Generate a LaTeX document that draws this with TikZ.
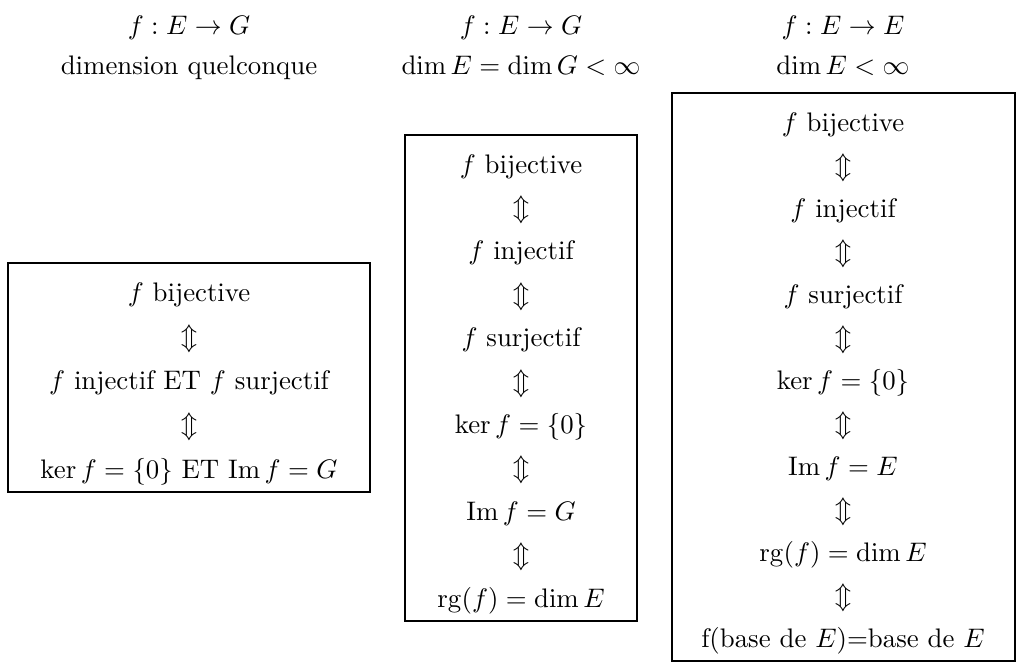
\documentclass[tikz,border=0pt]{standalone}
\usepackage{amsmath}
\begin{document}
\begin{tikzpicture}[x=0.373pt,y=-0.373pt,
  every node/.style={inner sep=0pt, anchor=base},
  framebox/.style={draw=black, line width=0.4pt},
  txt/.style={},
  eqv/.style={}]
\useasboundingbox (0,0) rectangle (1017,669);
% headers
\node (h1a) at (189,34) {$f:E\to G$};
\node (h1b) at (189,74) {dimension quelconque};
\node (h2a) at (521,34) {$f:E\to G$};
\node (h2b) at (521,74) {$\dim E=\dim G<\infty$};
\node (h3a) at (843,34) {$f:E\to E$};
\node (h3b) at (843,74) {$\dim E<\infty$};
% box 1
\draw[framebox] (8,263) rectangle (370,492);
\node[txt] (a1) at (189,301) {$f$ bijective};
\node[eqv] (a2) at (189,345.25) {$\Updownarrow$};
\node[txt] (a3) at (189,389.5) {$f$ injectif ET $f$ surjectif};
\node[eqv] (a4) at (189,433.75) {$\Updownarrow$};
\node[txt] (a5) at (189,478) {$\ker f=\{0\}$ ET $\operatorname{Im} f=G$};
% box 2
\draw[framebox] (405,135) rectangle (637,621);
\node[txt] (b1) at (521,173) {$f$ bijective};
\node[eqv] (b2) at (521,216.4) {$\Updownarrow$};
\node[txt] (b3) at (521,259.8) {$f$ injectif};
\node[eqv] (b4) at (521,303.2) {$\Updownarrow$};
\node[txt] (b5) at (521,346.6) {$f$ surjectif};
\node[eqv] (b6) at (521,390) {$\Updownarrow$};
\node[txt] (b7) at (521,433.4) {$\ker f=\{0\}$};
\node[eqv] (b8) at (521,476.8) {$\Updownarrow$};
\node[txt] (b9) at (521,520.2) {$\operatorname{Im} f=G$};
\node[eqv] (b10) at (521,563.6) {$\Updownarrow$};
\node[txt] (b11) at (521,607) {$\operatorname{rg}(f)=\dim E$};
% box 3
\draw[framebox] (672,93) rectangle (1015,661);
\node[txt] (c1) at (843,131) {$f$ bijective};
\node[eqv] (c2) at (843,174) {$\Updownarrow$};
\node[txt] (c3) at (843,217) {$f$ injectif};
\node[eqv] (c4) at (843,260) {$\Updownarrow$};
\node[txt] (c5) at (843,303) {$f$ surjectif};
\node[eqv] (c6) at (843,346) {$\Updownarrow$};
\node[txt] (c7) at (843,389) {$\ker f=\{0\}$};
\node[eqv] (c8) at (843,432) {$\Updownarrow$};
\node[txt] (c9) at (843,475) {$\operatorname{Im} f=E$};
\node[eqv] (c10) at (843,518) {$\Updownarrow$};
\node[txt] (c11) at (843,561) {$\operatorname{rg}(f)=\dim E$};
\node[eqv] (c12) at (843,604) {$\Updownarrow$};
\node[txt] (c13) at (843,647) {f(base de $E$)=base de $E$};
\end{tikzpicture}
\end{document}
